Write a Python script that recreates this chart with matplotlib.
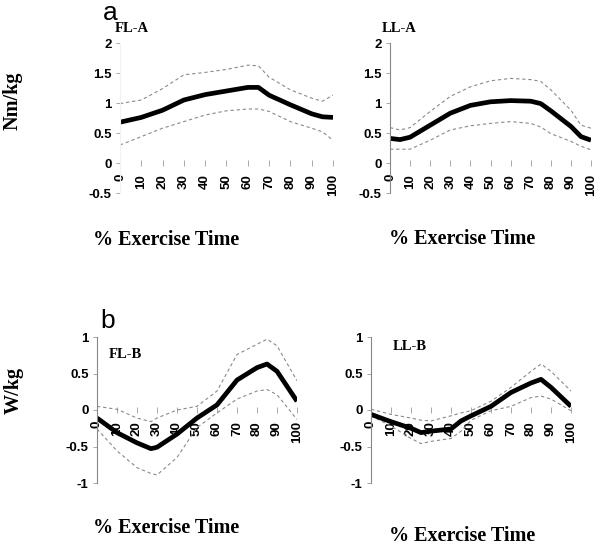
import matplotlib
matplotlib.use('Agg')
import matplotlib.pyplot as plt

# % exercise time sample points
x_fla = [0, 10, 20, 30, 40, 50, 60, 65, 70, 80, 90, 95, 100]
fla_mean = [0.68, 0.76, 0.88, 1.05, 1.14, 1.20, 1.26, 1.26, 1.13, 0.97, 0.82, 0.77, 0.76]
fla_up = [0.99, 1.05, 1.24, 1.47, 1.51, 1.56, 1.63, 1.62, 1.43, 1.22, 1.08, 1.03, 1.13]
fla_lo = [0.30, 0.44, 0.58, 0.69, 0.80, 0.87, 0.90, 0.90, 0.86, 0.69, 0.58, 0.52, 0.38]

x_lla = [0, 5, 10, 20, 30, 40, 50, 60, 70, 75, 80, 90, 95, 100]
lla_mean = [0.41, 0.39, 0.43, 0.63, 0.83, 0.96, 1.02, 1.04, 1.03, 0.99, 0.87, 0.61, 0.44, 0.38]
lla_up = [0.59, 0.55, 0.59, 0.86, 1.11, 1.27, 1.37, 1.41, 1.39, 1.36, 1.22, 0.88, 0.63, 0.58]
lla_lo = [0.23, 0.23, 0.23, 0.38, 0.55, 0.62, 0.66, 0.69, 0.66, 0.60, 0.49, 0.36, 0.28, 0.22]

x_flb = [0, 10, 20, 27, 30, 40, 50, 60, 70, 80, 85, 90, 100]
flb_mean = [-0.11, -0.31, -0.45, -0.53, -0.51, -0.33, -0.11, 0.07, 0.41, 0.58, 0.63, 0.53, 0.12]
flb_up = [0.05, 0.01, -0.11, -0.16, -0.11, 0.00, 0.05, 0.26, 0.76, 0.90, 0.97, 0.88, 0.40]
flb_lo = [-0.26, -0.56, -0.79, -0.87, -0.89, -0.65, -0.24, -0.04, 0.15, 0.26, 0.28, 0.21, -0.13]

x_llb = [0, 10, 20, 25, 30, 40, 45, 50, 60, 70, 80, 85, 90, 100]
llb_mean = [-0.06, -0.16, -0.25, -0.31, -0.29, -0.26, -0.15, -0.08, 0.05, 0.24, 0.37, 0.42, 0.31, 0.05]
llb_up = [0.01, -0.06, -0.11, -0.14, -0.15, -0.08, -0.04, -0.01, 0.12, 0.31, 0.53, 0.63, 0.53, 0.26]
llb_lo = [-0.08, -0.22, -0.39, -0.46, -0.43, -0.39, -0.29, -0.14, -0.01, 0.05, 0.17, 0.19, 0.15, -0.01]

xticks = list(range(0, 101, 10))

W, H = 601, 546
fig = plt.figure(figsize=(W / 100, H / 100), dpi=100)

SANS = 'Liberation Sans'
SERIF = 'Liberation Serif'


def px_axes(x0, x1, ytop, ybot):
    return fig.add_axes([x0 / W, 1 - ybot / H, (x1 - x0) / W, (ybot - ytop) / H])


def panel(ax, x, mean, up, lo, ylim, yticks, spine_col):
    ax.plot(x, up, color='#8a8a8a', lw=0.8, ls=(0, (3, 2.5)))
    ax.plot(x, lo, color='#8a8a8a', lw=0.8, ls=(0, (3, 2.5)))
    ax.plot(x, mean, color='black', lw=3.4, solid_capstyle='butt')
    ax.set_xlim(0, 100)
    ax.set_ylim(*ylim)
    for s in ['top', 'right']:
        ax.spines[s].set_visible(False)
    ax.spines['bottom'].set_position(('data', 0))
    ax.spines['bottom'].set_visible(False)
    ax.spines['left'].set_color(spine_col)
    ax.spines['left'].set_linewidth(0.8)
    ax.tick_params(axis='y', length=3, width=0.6, color='#999999', pad=3)
    ax.tick_params(axis='x', direction='inout', length=5, width=0.6,
                   color='#999999', pad=5.5, labelrotation=90)
    ax.set_yticks(yticks)
    ax.set_yticklabels([f'{t:g}' for t in yticks], fontfamily=SANS,
                       fontweight='bold', fontsize=9.5)
    ax.set_xticks(xticks)
    ax.set_xticklabels([str(t) for t in xticks], rotation=90, fontfamily=SANS,
                       fontweight='bold', fontsize=9.5, va='top', ha='center')
    ax.patch.set_visible(False)


ax1 = px_axes(120, 333, 43, 193)
panel(ax1, x_fla, fla_mean, fla_up, fla_lo, (-0.5, 2), [-0.5, 0, 0.5, 1, 1.5, 2], '#f2f2f2')
ax2 = px_axes(390, 591, 43, 193)
panel(ax2, x_lla, lla_mean, lla_up, lla_lo, (-0.5, 2), [-0.5, 0, 0.5, 1, 1.5, 2], '#888888')
ax3 = px_axes(97, 297, 337, 483)
panel(ax3, x_flb, flb_mean, flb_up, flb_lo, (-1, 1), [-1, -0.5, 0, 0.5, 1], '#888888')
ax4 = px_axes(371, 571, 337, 483)
panel(ax4, x_llb, llb_mean, llb_up, llb_lo, (-1, 1), [-1, -0.5, 0, 0.5, 1], '#888888')


def ftext(x, y, s, **kw):
    fig.text(x / W, 1 - y / H, s, ha='center', va='center', **kw)


ftext(110, 13, 'a', fontfamily=SANS, fontsize=19)
ftext(108, 321, 'b', fontfamily=SANS, fontsize=19)
ftext(132, 28, 'FL-A', fontfamily=SERIF, fontweight='bold', fontsize=10.5)
ftext(399, 28, 'LL-A', fontfamily=SERIF, fontweight='bold', fontsize=10.5)
ftext(125, 355, 'FL-B', fontfamily=SERIF, fontweight='bold', fontsize=10.5)
ftext(410, 347, 'LL-B', fontfamily=SERIF, fontweight='bold', fontsize=10.5)
ftext(13, 101, 'Nm/kg', fontfamily=SERIF, fontweight='bold', fontsize=14.5, rotation=90)
ftext(14, 390, 'W/kg', fontfamily=SERIF, fontweight='bold', fontsize=14.5, rotation=90)
for cx, cy in [(166, 240), (462, 239), (166, 528), (462, 536)]:
    ftext(cx, cy, '% Exercise Time', fontfamily=SERIF, fontweight='bold', fontsize=14.5)

fig.savefig('out.png', dpi=100)
